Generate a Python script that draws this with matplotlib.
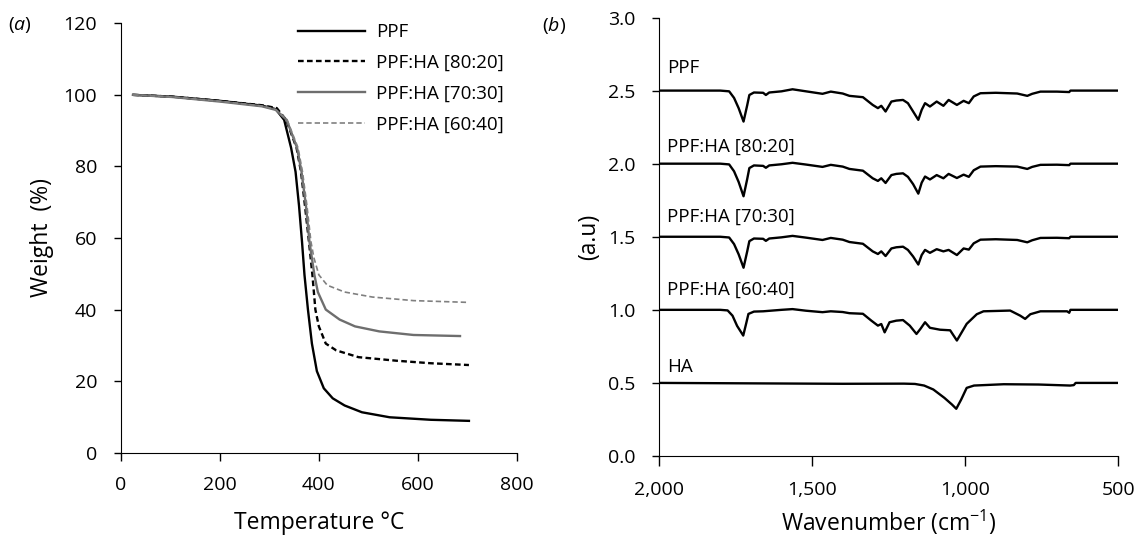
import matplotlib
matplotlib.use("Agg")
from matplotlib import pyplot as plt
from matplotlib.ticker import FuncFormatter

plt.rcParams['font.family'] = ['Open Sans', 'DejaVu Sans']
plt.rcParams['mathtext.fontset'] = 'custom'
plt.rcParams['mathtext.rm'] = 'Open Sans'
plt.rcParams['mathtext.it'] = 'Open Sans:italic'

# --- (a) TGA curves: temperature (C) vs weight (%)
tga_names = ['PPF', 'PPF:HA [80:20]', 'PPF:HA [70:30]', 'PPF:HA [60:40]']

ppf_t = [25, 104, 202, 285, 313, 330, 344, 353, 360, 366, 371, 378, 386, 396, 410, 428, 452, 487, 543, 626, 703]
ppf_w = [100, 99.5, 98.3, 97, 96, 93, 85.2, 78.5, 69, 59, 49.7, 40, 30.5, 22.8, 18, 15.2, 13.2, 11.3, 9.9, 9.2, 8.9]

ha20_t = [25, 104, 202, 285, 315, 334, 355, 364, 372, 380, 387, 393, 400, 414, 435, 480, 557, 626, 703]
ha20_w = [100, 99.5, 98.3, 97.1, 96.3, 93, 85.2, 78.5, 69, 59, 49.7, 40, 35.3, 30.5, 28.6, 26.7, 25.7, 25, 24.5]

ha30_t = [25, 104, 202, 285, 313, 335, 356, 365, 374, 381, 391, 398, 414, 442, 473, 522, 591, 685]
ha30_w = [100, 99.4, 98.1, 96.8, 95.8, 93, 85.2, 78.5, 69, 59, 49.7, 44.9, 40, 37.2, 35.3, 33.9, 32.9, 32.6]

ha40_t = [25, 104, 202, 285, 313, 336, 358, 367, 376, 384, 390, 400, 417, 452, 508, 591, 703]
ha40_w = [100, 99.4, 98.2, 96.9, 95.9, 93, 85.2, 78.5, 69, 59, 54.5, 49.7, 46.8, 44.9, 43.5, 42.5, 42]

# --- (b) FTIR spectra, each drawn as an offset from its baseline
ftir_names = ['PPF', 'PPF:HA [80:20]', 'PPF:HA [70:30]', 'PPF:HA [60:40]', 'HA']
ftir_base = [2.5, 2.0, 1.5, 1.0, 0.5]

ppf_wn = [2000, 1800, 1771, 1755, 1740, 1724, 1712, 1705, 1690, 1660, 1651, 1640, 1600, 1564, 1520, 1466,
          1439, 1400, 1378, 1334, 1302, 1285, 1274, 1260, 1241, 1225, 1203, 1187, 1170, 1153, 1142, 1131,
          1115, 1093, 1071, 1054, 1027, 1005, 988, 972, 950, 900, 830, 797, 781, 754, 700, 660, 656, 500]
ppf_d = [0, 0, -0.005, -0.05, -0.12, -0.212, -0.1, -0.03, -0.013, -0.015, -0.03, -0.013, -0.005, 0.009,
         -0.005, -0.022, -0.007, -0.02, -0.036, -0.045, -0.098, -0.12, -0.104, -0.143, -0.075, -0.068,
         -0.064, -0.086, -0.143, -0.2, -0.132, -0.086, -0.109, -0.075, -0.104, -0.064, -0.098, -0.07,
         -0.086, -0.04, -0.018, -0.015, -0.02, -0.036, -0.022, -0.007, -0.007, -0.01, 0, 0]

ha20_d = [0, 0, -0.005, -0.052, -0.125, -0.223, -0.105, -0.03, -0.012, -0.015, -0.028, -0.012, -0.004, 0.006,
          -0.006, -0.022, -0.008, -0.02, -0.036, -0.048, -0.1, -0.118, -0.1, -0.132, -0.078, -0.07,
          -0.066, -0.09, -0.14, -0.205, -0.13, -0.088, -0.108, -0.078, -0.1, -0.07, -0.098, -0.075,
          -0.09, -0.045, -0.02, -0.017, -0.02, -0.036, -0.022, -0.008, -0.007, -0.01, 0, 0]

ha30_d = [0, 0, -0.005, -0.05, -0.12, -0.212, -0.1, -0.03, -0.012, -0.014, -0.028, -0.012, -0.004, 0.006,
          -0.006, -0.022, -0.008, -0.02, -0.036, -0.048, -0.1, -0.118, -0.1, -0.132, -0.08, -0.072,
          -0.068, -0.09, -0.135, -0.19, -0.125, -0.09, -0.11, -0.085, -0.1, -0.09, -0.125, -0.08,
          -0.088, -0.045, -0.02, -0.017, -0.022, -0.038, -0.024, -0.008, -0.007, -0.01, 0, 0]

ha40_wn = [2000, 1800, 1776, 1760, 1745, 1725, 1715, 1708, 1690, 1660, 1600, 1564, 1520, 1466, 1439, 1400,
           1378, 1334, 1307, 1285, 1274, 1263, 1247, 1225, 1203, 1181, 1159, 1146, 1131, 1115, 1082, 1049,
           1038, 1027, 1011, 995, 978, 962, 940, 853, 820, 804, 787, 754, 667, 660, 656, 500]
ha40_d = [0, 0, -0.004, -0.04, -0.11, -0.176, -0.09, -0.028, -0.012, -0.01, 0, 0.005, -0.006, -0.016,
          -0.01, -0.015, -0.023, -0.027, -0.073, -0.108, -0.097, -0.154, -0.085, -0.074, -0.07, -0.108,
          -0.165, -0.13, -0.085, -0.123, -0.136, -0.14, -0.175, -0.21, -0.153, -0.096, -0.062, -0.03,
          -0.01, -0.005, -0.04, -0.062, -0.03, -0.01, -0.01, -0.02, 0, 0]

ha_wn = [2000, 1800, 1600, 1400, 1200, 1164, 1134, 1104, 1068, 1043, 1029, 1013, 995, 971, 874, 760, 657,
         645, 639, 500]
ha_d = [0, -0.002, -0.004, -0.006, -0.005, -0.007, -0.018, -0.045, -0.102, -0.148, -0.177, -0.114, -0.034,
        -0.018, -0.009, -0.011, -0.018, -0.015, 0, 0]

fig = plt.figure(figsize=(11.43, 5.39), dpi=100)

# ---------- panel (a)
ax1 = fig.add_axes([0.1056, 0.1601, 0.3467, 0.7967])
ax1.plot(ppf_t, ppf_w, color='black', lw=1.7, label=tga_names[0])
ax1.plot(ha20_t, ha20_w, color='black', lw=1.7, dashes=(2.4, 1.4), label=tga_names[1])
ax1.plot(ha30_t, ha30_w, color='#6e6e6e', lw=1.7, label=tga_names[2])
ax1.plot(ha40_t, ha40_w, color='#808080', lw=1.2, dashes=(3.2, 1.8), label=tga_names[3])
ax1.set_xlim(0, 800)
ax1.set_ylim(0, 120)
ax1.set_xticks([0, 200, 400, 600, 800])
ax1.set_yticks([0, 20, 40, 60, 80, 100, 120])
ax1.set_xlabel('Temperature °C', fontsize=16.5, labelpad=12)
ax1.set_ylabel('Weight  (%)', fontsize=16.5, labelpad=7)
ax1.tick_params(direction='out', width=1, labelsize=14)
ax1.tick_params(axis='x', length=6, pad=11)
ax1.tick_params(axis='y', length=5, pad=12)
for s in ['top', 'right']:
    ax1.spines[s].set_visible(False)
ax1.legend(loc='upper left', bbox_to_anchor=(0.447, 1.0), frameon=False, fontsize=13.5,
           handlelength=3.6, handletextpad=0.55, labelspacing=0.68, borderpad=0, borderaxespad=0)
fig.text(0.007, 0.953, r'($\it{a}$)', fontsize=14, va='center')

# ---------- panel (b)
ax2 = fig.add_axes([0.5766, 0.154, 0.4017, 0.8135])
spectra = [(ppf_wn, ppf_d), (ppf_wn, ha20_d), (ppf_wn, ha30_d), (ha40_wn, ha40_d), (ha_wn, ha_d)]
label_dy = [0.155, 0.115, 0.135, 0.135, 0.11]
for (wn, d), name, base, dy in zip(spectra, ftir_names, ftir_base, label_dy):
    ax2.plot(wn, [base + v for v in d], color='black', lw=1.7)
    ax2.text(1975, base + dy, name, fontsize=13.5, va='center', ha='left')
ax2.set_xlim(2000, 500)
ax2.set_ylim(0, 3.0)
ax2.set_xticks([2000, 1500, 1000, 500])
ax2.set_yticks([0, 0.5, 1.0, 1.5, 2.0, 2.5, 3.0])
ax2.xaxis.set_major_formatter(FuncFormatter(lambda v, p: f'{v:,.0f}'))
ax2.yaxis.set_major_formatter(FuncFormatter(lambda v, p: f'{v:.1f}'))
ax2.set_xlabel(r'Wavenumber (cm$^{-1}$)', fontsize=16.5, labelpad=6)
ax2.set_ylabel('(a.u)', fontsize=16.5, labelpad=5)
ax2.tick_params(direction='out', width=1, labelsize=14)
ax2.tick_params(axis='x', length=7, pad=11)
ax2.tick_params(axis='y', length=5, pad=12)
for s in ['top', 'right']:
    ax2.spines[s].set_visible(False)
fig.text(0.474, 0.953, r'($\it{b}$)', fontsize=14, va='center')

fig.savefig('out.png', dpi=100)
